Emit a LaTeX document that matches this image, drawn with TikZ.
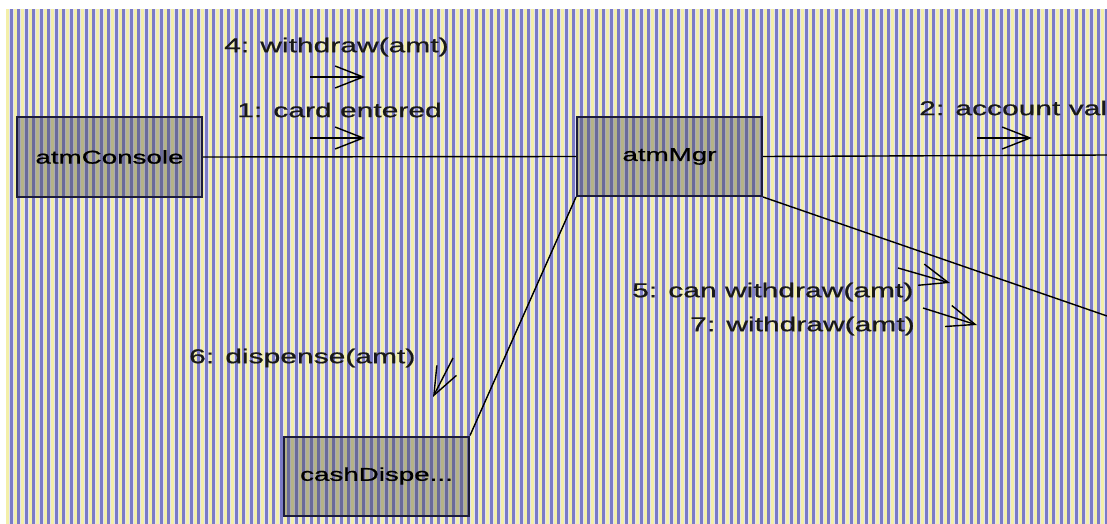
\documentclass[tikz,border=0pt]{standalone}
\usepackage{fontspec}
\setmainfont{Liberation Sans}[FakeStretch=1.5,FakeBold=0.8]
\usetikzlibrary{arrows.meta}
\definecolor{stripeblue}{HTML}{7B7BC6}
\definecolor{stripeyellow}{HTML}{F3EFA9}
\definecolor{stripepale}{HTML}{E2E2F4}
\definecolor{boxline}{HTML}{1C1C3C}
\definecolor{boxshade}{HTML}{505050}
\tikzset{
  objbox/.style={draw=boxline,line width=2pt,fill=boxshade,fill opacity=0.38,text opacity=1,
    minimum width=185pt,minimum height=79pt,inner sep=0pt,font=\fontsize{18.5}{21}\selectfont},
  link/.style={draw=black,line width=1.4pt},
  msg/.style={draw=black,line width=1.4pt,-{Straight Barb[length=28pt,width=22pt,line width=1.4pt]}},
  msglabel/.style={anchor=west,inner sep=0pt,text=black!90,font=\fontsize{20}{24}\selectfont},
}
\begin{document}
\begin{tikzpicture}[x=1pt,y=1pt]
\useasboundingbox (0,0) rectangle (1107,-524);
% striped background:
\fill[white] (0,0) rectangle (1107,-524);
\fill[stripepale] (6,-9) rectangle (1107,-524);
\foreach \i in {0,...,147} {
  \fill[stripeyellow] ({6+7.5*\i},-9) rectangle +(3,-515);
  \fill[stripeblue] ({9.8+7.5*\i},-9) rectangle +(2.8,-515);
}
% objects:
\node[objbox] (console) at (109.5,-157) {atmConsole};
\node[objbox] (mgr) at (669.5,-156.5) {atmMgr};
\node[objbox] (dispenser) at (376.5,-476) {cashDispe...};
\coordinate (edgeR) at (1107,-155);
\coordinate (edgeRlow) at (1107,-316);
% links:
\path[link] (console.east) -- (mgr.west);
\path[link] (mgr.east) -- (edgeR);
\path[link] (mgr.south east) -- (edgeRlow);
\path[link] (mgr.south west) -- (dispenser.north east);
% messages:
\node[msglabel] (m4) at (224,-47) {4: withdraw(amt)};
\path[msg] (310,-77) -- (365,-77);
\node[msglabel] (m1) at (237,-110) {1: card entered};
\path[msg] (310,-138) -- (365,-138);
\node[msglabel] (m2) at (919,-108) {2: account val};
\path[msg] (977,-138) -- (1032,-138);
\node[msglabel] (m5) at (632,-292) {5: can withdraw(amt)};
\path[msg] (898,-268) -- (950,-283);
\node[msglabel] (m7) at (690,-326) {7: withdraw(amt)};
\path[msg] (923,-308) -- (977,-325);
\node[msglabel] (m6) at (189,-358) {6: dispense(amt)};
\path[msg] (453,-358) -- (433,-397);
\end{tikzpicture}
\end{document}
